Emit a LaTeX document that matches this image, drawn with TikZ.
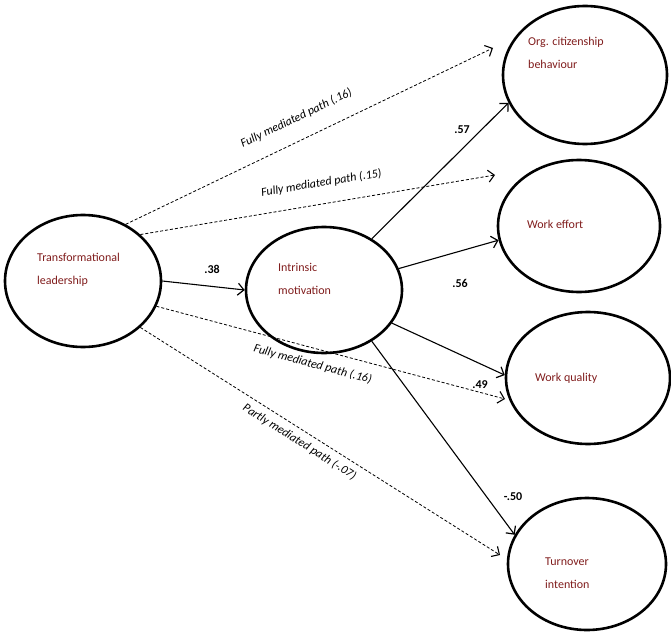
\documentclass[tikz,border=0pt]{standalone}
\usepackage{fontspec}
\setmainfont{Carlito}
\usetikzlibrary{shapes.geometric,arrows.meta}
\definecolor{txtred}{RGB}{128,28,28}
\begin{document}
\begin{tikzpicture}[x=1pt,y=-1pt,
  latent/.style={draw, ellipse, line width=2.6pt, inner sep=0pt},
  ltext/.style={text=txtred, align=left, anchor=west, inner sep=0pt, font=\fontsize{12}{23}\selectfont},
  eff/.style={-{Straight Barb[length=6pt,width=12pt,line width=1.2pt]}, line width=1.1pt},
  med/.style={-{Straight Barb[length=6pt,width=12pt,line width=1.1pt,line cap=butt]}, line width=0.8pt, dash pattern=on 3pt off 2pt},
  coef/.style={inner sep=0pt, font=\bfseries\fontsize{12}{14}\selectfont},
  plab/.style={inner sep=0pt, font=\itshape\fontsize{12}{14}\selectfont, sloped}]
\useasboundingbox (0,0) rectangle (671,631);

% latent variables
\node[latent, minimum width=156pt, minimum height=132pt] (tl)  at (83,281) {};
\node[latent, minimum width=156pt, minimum height=126pt] (im)  at (324,290) {};
\node[latent, minimum width=164pt, minimum height=138pt] (ocb) at (585,75) {};
\node[latent, minimum width=162pt, minimum height=132pt] (we)  at (579,226) {};
\node[latent, minimum width=164pt, minimum height=132pt] (wq)  at (588,378) {};
\node[latent, minimum width=158pt, minimum height=132pt] (ti)  at (587,564) {};

% labels inside
\node[ltext] (tlt)  at (37,270)  {Transformational\\leadership};
\node[ltext] (imt)  at (278,279) {Intrinsic\\motivation};
\node[ltext] (ocbt) at (528,53)  {Org. citizenship\\behaviour};
\node[ltext] (wet)  at (527,224) {Work effort};
\node[ltext] (wqt)  at (535,378) {Work quality};
\node[ltext] (tit)  at (545,573) {Turnover\\intention};

% free ends of mediated paths
\coordinate (e1) at (493,48);
\coordinate (e2) at (495,175);
\coordinate (e3) at (505,399);
\coordinate (e4) at (500,555);

% direct effects
\draw[eff] (tl.east) -- (im.west);
\draw[eff] (im.47) -- (ocb.200);
\draw[eff] (im.16) -- (we.190);
\draw[eff] (im.-26) -- (wq.178);
\draw[eff] (im.-47) -- (ti.158);

% mediated paths
\draw[med] (tl.53) -- node[plab, above=16pt, pos=0.49] (l1) {Fully mediated path (.16)} (e1);
\draw[med] (tl.39) -- node[plab, above=15pt, pos=0.52] (l2) {Fully mediated path (.15)} (e2);
\draw[med] (tl.-19) -- node[plab, below=10pt, pos=0.46] (l3) {Fully mediated path (.16)} (e3);
\draw[med] (tl.-39) -- node[plab, below=6pt, pos=0.46] (l4) {Partly mediated path (-.07)} (e4);

% coefficients
\node[coef] (c1) at (212,269) {.38};
\node[coef] (c2) at (462,130) {.57};
\node[coef] (c3) at (460,283) {.56};
\node[coef] (c4) at (480,385) {.49};
\node[coef] (c5) at (513,497) {-.50};
\end{tikzpicture}
\end{document}
